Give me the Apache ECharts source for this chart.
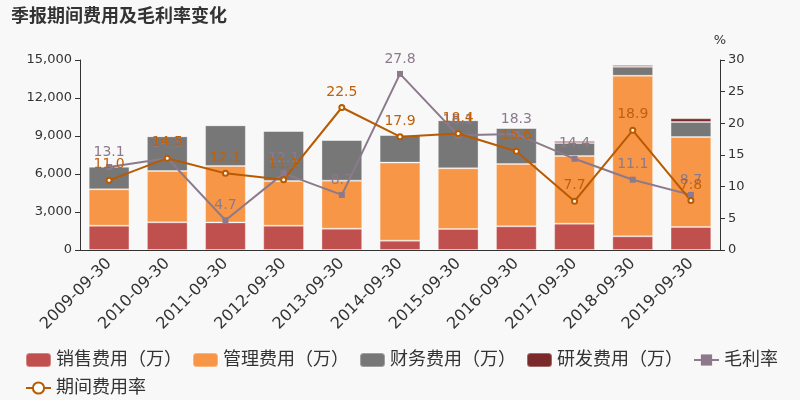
<!DOCTYPE html>
<html><head><meta charset="utf-8">
<script src="https://cdn.jsdelivr.net/npm/echarts@6/dist/echarts.min.js"></script>
<style>html,body{margin:0;padding:0;background:#f8f8f8}#c{width:800px;height:400px}</style>
</head><body><div id="c"></div>
<script>
var categories = ['2009-09-30','2010-09-30','2011-09-30','2012-09-30','2013-09-30','2014-09-30','2015-09-30','2016-09-30','2017-09-30','2018-09-30','2019-09-30'];
var salesExp = [1920, 2185, 2180, 1920, 1685, 740, 1660, 1870, 2080, 1080, 1820];
var mgmtExp = [2870, 4050, 4450, 3530, 3790, 6160, 4790, 4920, 5340, 12680, 7100];
var finExp = [1790, 2740, 3210, 3950, 3210, 2180, 3790, 2840, 1030, 710, 1185];
var rdExp = [0, 0, 0, 0, 0, 0, 0, 0, 160, 130, 290];
var grossMargin = [13.1, 14.5, 4.7, 12.1, 8.7, 27.8, 18.1, 18.3, 14.4, 11.1, 8.7];
var periodRate = [11.0, 14.5, 12.1, 11.1, 22.5, 17.9, 18.4, 15.6, 7.7, 18.9, 7.8];

var font = '"DejaVu Sans", "Noto Sans CJK SC", sans-serif';
var chart = echarts.init(document.getElementById('c'), null, {renderer: 'canvas'});
function bar(name, data, color) {
  return {name: name, type: 'bar', stack: 'exp', data: data, barWidth: '70%',
    itemStyle: {color: color, borderColor: 'rgba(255,255,255,0.3)', borderWidth: 1}};
}
function fmt1(p) { return Number(p.value).toFixed(1); }
chart.setOption({
  backgroundColor: '#f8f8f8',
  textStyle: {fontFamily: font},
  title: {text: '季报期间费用及毛利率变化', left: 6, top: 3,
    textStyle: {fontSize: 18, fontWeight: 'bold', color: '#333', fontFamily: font}},
  grid: {left: 80, right: 80, top: 60, bottom: 150},
  legend: {left: 20, right: 5, top: 346, itemWidth: 25, itemHeight: 14, itemGap: 10,
    textStyle: {fontSize: 18, color: '#333', fontFamily: font},
    data: [
      {name: '销售费用（万）', icon: 'roundRect'},
      {name: '管理费用（万）', icon: 'roundRect'},
      {name: '财务费用（万）', icon: 'roundRect'},
      {name: '研发费用（万）', icon: 'roundRect'},
      {name: '毛利率'},
      {name: '期间费用率'}
    ]},
  xAxis: {type: 'category', data: categories,
    axisLine: {lineStyle: {color: '#333'}},
    axisTick: {lineStyle: {color: '#333'}},
    axisLabel: {rotate: 45, fontSize: 16, color: '#333', margin: 11, fontFamily: font}},
  yAxis: [
    {type: 'value', min: 0, max: 15000, interval: 3000,
      axisLine: {show: true, lineStyle: {color: '#333'}},
      axisTick: {show: true},
      splitLine: {show: false},
      axisLabel: {fontSize: 13, color: '#333', fontFamily: font,
        formatter: function (v) { return v.toLocaleString('en-US'); }}},
    {type: 'value', min: 0, max: 30, interval: 5, name: '%',
      nameTextStyle: {fontSize: 13, color: '#333', fontFamily: font},
      nameGap: 13,
      axisLine: {show: true, lineStyle: {color: '#333'}},
      axisTick: {show: true},
      splitLine: {show: false},
      axisLabel: {fontSize: 13, color: '#333', fontFamily: font}}
  ],
  series: [
    bar('销售费用（万）', salesExp, '#c0504d'),
    bar('管理费用（万）', mgmtExp, '#f79646'),
    bar('财务费用（万）', finExp, '#777777'),
    bar('研发费用（万）', rdExp, '#7a2a2a'),
    {name: '毛利率', type: 'line', yAxisIndex: 1, data: grossMargin,
      symbol: 'rect', symbolSize: 6,
      lineStyle: {color: '#8c7a8c', width: 2},
      itemStyle: {color: '#8c7a8c'},
      label: {show: true, position: 'top', fontSize: 14, color: '#8c7a8c', fontFamily: font, formatter: fmt1}},
    {name: '期间费用率', type: 'line', yAxisIndex: 1, data: periodRate,
      symbol: 'emptyCircle', symbolSize: 5,
      lineStyle: {color: '#b85a00', width: 2},
      itemStyle: {color: '#b85a00', borderColor: '#fff', borderWidth: 1},
      label: {show: true, position: 'top', fontSize: 14, color: '#c0600a', fontFamily: font, formatter: fmt1}}
  ]
});
</script></body></html>
